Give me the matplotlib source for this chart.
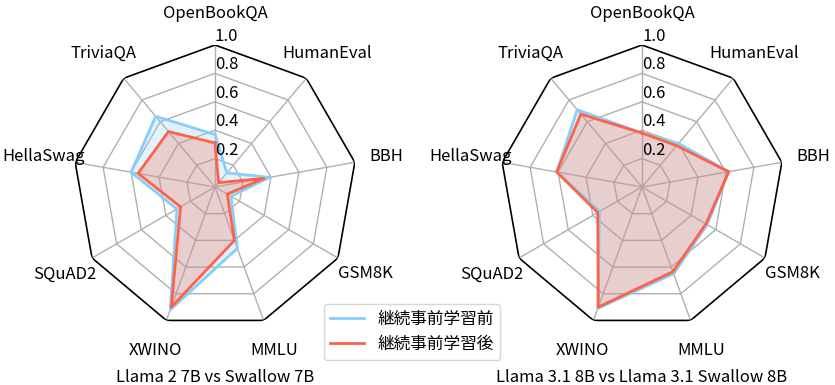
import numpy as np
import matplotlib
matplotlib.use('Agg')
import matplotlib.pyplot as plt

plt.rcParams['font.family'] = ['Noto Sans CJK JP', 'DejaVu Sans']
plt.rcParams['font.size'] = 12

categories = ['OpenBookQA', 'HumanEval', 'BBH', 'GSM8K', 'MMLU',
              'XWINO', 'SQuAD2', 'HellaSwag', 'TriviaQA']
ticks = [0.2, 0.4, 0.6, 0.8, 1.0]

# Llama 2 7B vs Swallow 7B
llama2_before = [0.37, 0.13, 0.39, 0.13, 0.46, 0.92, 0.31, 0.60, 0.65]
llama2_after = [0.31, 0.04, 0.35, 0.10, 0.40, 0.90, 0.28, 0.55, 0.51]
# Llama 3.1 8B vs Llama 3.1 Swallow 8B
llama31_before = [0.38, 0.40, 0.62, 0.53, 0.65, 0.91, 0.345, 0.61, 0.71]
llama31_after = [0.38, 0.38, 0.62, 0.52, 0.635, 0.90, 0.36, 0.61, 0.67]

titles = ['Llama 2 7B vs Swallow 7B', 'Llama 3.1 8B vs Llama 3.1 Swallow 8B']
labels = ['継続事前学習前', '継続事前学習後']
c_before = '#87CEFA'
c_after = '#FF6347'

n = len(categories)
angles = np.linspace(0, 2 * np.pi, n, endpoint=False)
closed = np.append(angles, angles[0])

fig = plt.figure(figsize=(8.35, 3.85), dpi=100)
W, H = 835, 385
R = 142


def radar(cx, cy, before, after, title):
    ax = fig.add_axes([(cx - R) / W, (H - cy - R) / H, 2 * R / W, 2 * R / H],
                      projection='polar')
    ax.set_theta_offset(np.pi / 2)
    ax.set_theta_direction(-1)
    ax.set_ylim(0, 1)
    ax.grid(False)
    ax.spines['polar'].set_visible(False)
    ax.set_yticks([])
    ax.set_xticks(angles)
    ax.set_xticklabels(categories)
    ax.tick_params(axis='x', pad=12.5)

    # polygon grid
    for r in ticks[:-1]:
        ax.plot(closed, [r] * (n + 1), color='#b0b0b0', lw=1, zorder=1)
    for a in angles:
        ax.plot([a, a], [0, 1], color='#b0b0b0', lw=1, zorder=1)
    ax.plot(closed, [1] * (n + 1), color='black', lw=1.2, zorder=1)
    for r in ticks:
        ax.text(0, r, f'{r:.1f}', ha='left', va='bottom', zorder=5)

    b = np.append(before, before[0])
    a_ = np.append(after, after[0])
    ax.fill(closed, b, color=c_before, alpha=0.25, zorder=2)
    ax.plot(closed, b, color=c_before, lw=2, label=labels[0], zorder=3)
    ax.fill(closed, a_, color=c_after, alpha=0.25, zorder=2)
    ax.plot(closed, a_, color=c_after, lw=2, label=labels[1], zorder=4)

    fig.text(cx / W, 1 - 377 / H, title, ha='center', va='center')
    return ax


ax1 = radar(215, 187, llama2_before, llama2_after, titles[0])
ax2 = radar(642, 187, llama31_before, llama31_after, titles[1])

h, l = ax1.get_legend_handles_labels()
fig.legend(h, l, loc='center', bbox_to_anchor=(412 / W, 1 - 332 / H))

fig.savefig('out.png', dpi=100)
